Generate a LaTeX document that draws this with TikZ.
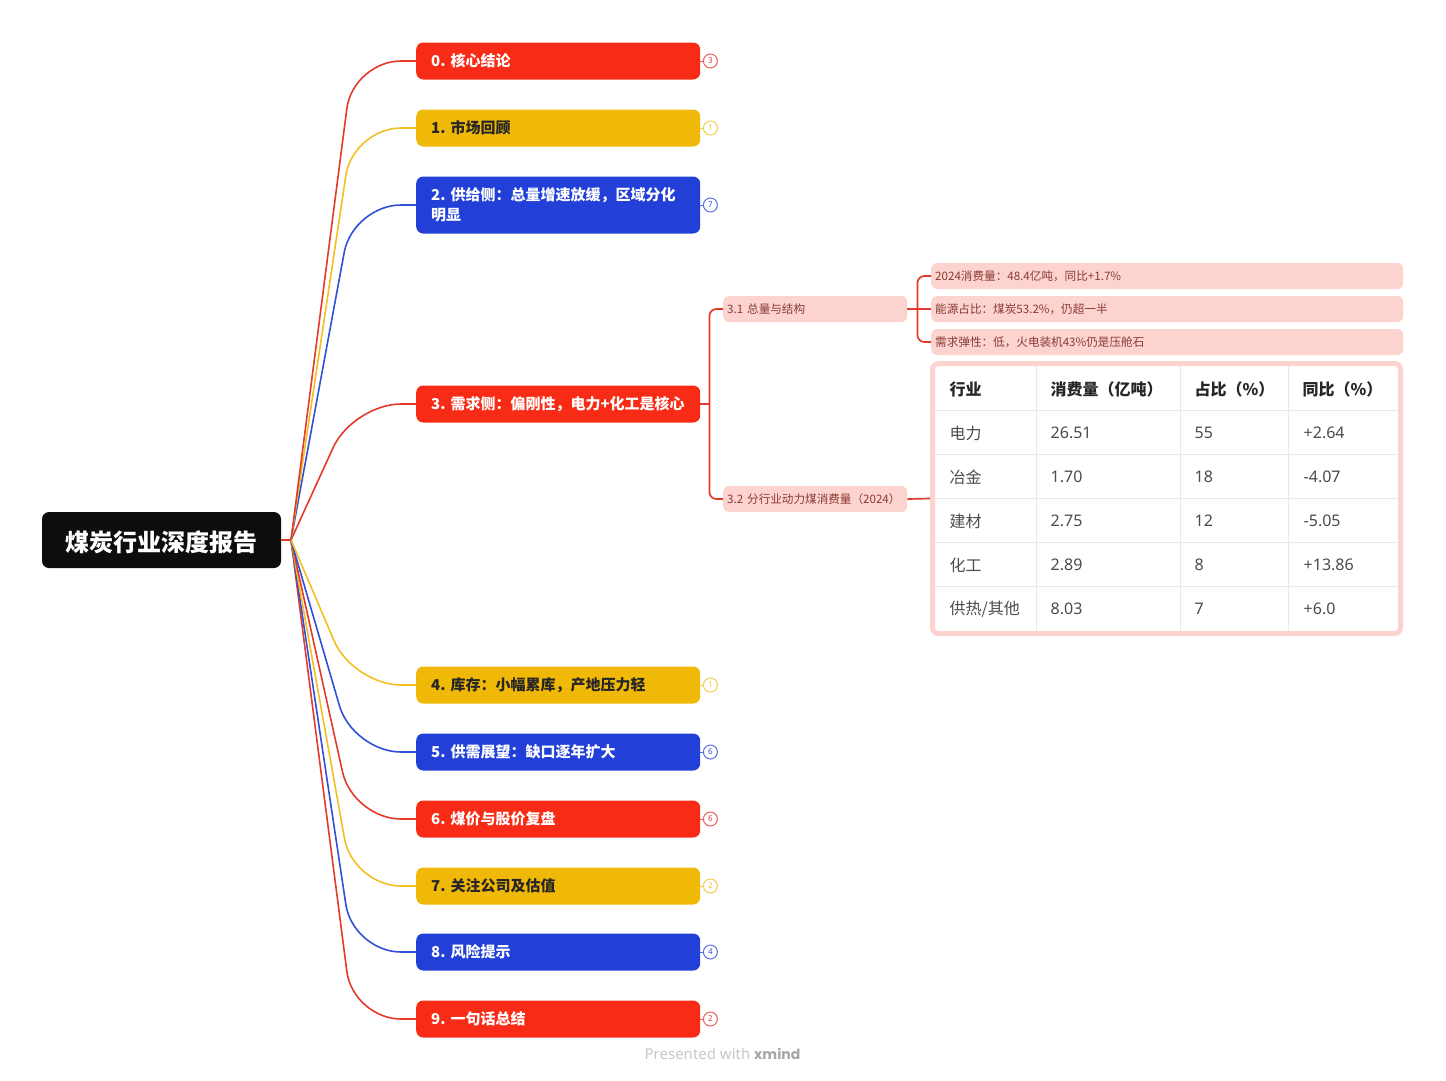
\documentclass[tikz,border=0pt]{standalone}
\usepackage{fontspec}
\setmainfont{Noto Sans CJK SC}
\newfontfamily\numfont{Noto Sans}
\newfontfamily\brandfont{Poppins}
\usetikzlibrary{positioning}
\frenchspacing
\definecolor{mapred}{HTML}{F82C16}
\definecolor{mapyellow}{HTML}{F0B807}
\definecolor{mapblue}{HTML}{2240D8}
\definecolor{linered}{HTML}{E33A2C}
\definecolor{lineyellow}{HTML}{F0C020}
\definecolor{lineblue}{HTML}{3050D8}
\definecolor{softpink}{HTML}{FCD3CF}
\definecolor{subtext}{HTML}{8A3B33}
\definecolor{gridgray}{HTML}{E9E9EC}
\tikzset{
    topic/.style={rectangle, rounded corners=7pt, anchor=west, minimum height=37pt,
        inner xsep=15pt, inner ysep=0pt, text width=254pt, align=left, font=\fontsize{15}{20}\selectfont\bfseries},
    topicred/.style={topic, fill=mapred, text=white},
    topicyellow/.style={topic, fill=mapyellow, text=black!85},
    topicblue/.style={topic, fill=mapblue, text=white},
    badge/.style={circle, draw, fill=white, line width=1pt, minimum size=14pt, inner sep=0pt,
        font=\numfont\fontsize{8}{8}\selectfont},
    branch/.style={line width=1.6pt, rounded corners=48pt},
    subline/.style={line width=1.7pt, draw=linered, rounded corners=7pt},
    subtopic/.style={rectangle, rounded corners=6pt, fill=softpink, text=subtext, anchor=west, minimum height=26pt,
        inner xsep=4pt, inner ysep=0pt, text width=176pt, font=\fontsize{11.6}{13}\selectfont},
    leaf/.style={subtopic, text width=464pt},
    headcell/.style={anchor=west, inner sep=0pt, text=black!85, font=\fontsize{16}{18}\selectfont\bfseries},
    bodycell/.style={anchor=west, inner sep=0pt, text=black!70, font=\fontsize{16}{18}\selectfont},
    numcell/.style={anchor=west, inner sep=0pt, text=black!70, font=\numfont\fontsize{16}{18}\selectfont},
}
\begin{document}
\begin{tikzpicture}[x=1pt, y=-1pt]
    \useasboundingbox (0,0) rectangle (1446,1080);

    \node[rectangle, rounded corners=7pt, fill=black!95, minimum width=239pt, minimum height=56pt, inner sep=0pt] (root) at (161.5,540) {};
    \node[text=white, inner sep=0pt, font=\fontsize{24}{28}\selectfont\bfseries] (rootlabel) at (161.5,542) {煤炭行业深度报告};
    \coordinate (hub) at (291,540);
    \coordinate (bend) at (353,540);

    % main topics
    \node[topicred] (t0) at (416,61) {0. 核心结论};
    \node[topicyellow] (t1) at (416,128) {1. 市场回顾};
    \node[topicblue, minimum height=57pt] (t2) at (416,205) {2. 供给侧：总量增速放缓，区域分化\\明显};
    \node[topicred] (t3) at (416,404) {3. 需求侧：偏刚性，电力+化工是核心};
    \node[topicyellow] (t4) at (416,685) {4. 库存：小幅累库，产地压力轻};
    \node[topicblue] (t5) at (416,752) {5. 供需展望：缺口逐年扩大};
    \node[topicred] (t6) at (416,819) {6. 煤价与股价复盘};
    \node[topicyellow] (t7) at (416,886) {7. 关注公司及估值};
    \node[topicblue] (t8) at (416,952) {8. 风险提示};
    \node[topicred] (t9) at (416,1019) {9. 一句话总结};

    % branches and counters
    \draw[line width=1.6pt, draw=linered] (root.east) -- (hub);
    \foreach \i/\col in {9/red, 8/blue, 7/yellow, 6/red, 5/blue, 4/yellow, 3/red, 2/blue, 1/yellow, 0/red} {
        \draw[branch, draw=line\col] (hub) -- (bend |- t\i.west) -- (t\i.west);
    }
    \foreach \i/\n/\col in {0/3/red, 1/1/yellow, 2/7/blue, 4/1/yellow, 5/6/blue, 6/6/red, 7/2/yellow, 8/4/blue, 9/2/red} {
        \node[badge, draw=line\col!80, text=line\col, right=2.5pt of t\i] (b\i) {\n};
        \draw[line width=1pt, draw=line\col!80] (t\i) -- (b\i);
    }

    % section 3
    \node[subtopic] (s1) at (723,309) {3.1 总量与结构};
    \node[subtopic] (s2) at (723,499) {3.2 分行业动力煤消费量（2024）};
    \node[leaf] (l1) at (931,276) {2024消费量：48.4亿吨，同比+1.7\%};
    \node[leaf] (l2) at (931,309) {能源占比：煤炭53.2\%，仍超一半};
    \node[leaf] (l3) at (931,342) {需求弹性：低，火电装机43\%仍是压舱石};
    \coordinate[right=9pt of t3.east] (j3);
    \coordinate[right=10pt of s1.east] (j1);
    \draw[subline] (t3.east) -- (j3);
    \draw[subline] (j3) |- (s1.west);
    \draw[subline] (j3) |- (s2.west);
    \draw[subline] (s1.east) -- (l2.west);
    \draw[subline] (j1) |- (l1.west);
    \draw[subline] (j1) |- (l3.west);

    % table
    \node[rectangle, draw=softpink, fill=white, line width=5pt, rounded corners=6pt, minimum width=468pt, minimum height=270pt,
        inner sep=0pt] (tbl) at (1166.5,498.5) {};
    \draw[subline] (s2.east) -- (tbl.west);
    \foreach \y in {410.5,454.5,498.5,542.5,586.5} {
        \draw[line width=0.8pt, draw=gridgray] (935,\y) -- (1397.5,\y);
    }
    \foreach \x in {1036.7,1180.7,1288.5} {
        \draw[line width=0.8pt, draw=gridgray] (\x,366) -- (\x,631);
    }
    \node[headcell] (h1) at (949.5,389.5) {行业};
    \node[headcell] (h2) at (1050.5,389.5) {消费量（亿吨）};
    \node[headcell] (h3) at (1194.5,389.5) {占比（\%）};
    \node[headcell] (h4) at (1302.5,389.5) {同比（\%）};
    \foreach \i/\y/\a/\b/\c/\d in {1/433/电力/26.51/55/+2.64, 2/477/冶金/1.70/18/-4.07, 3/521/建材/2.75/12/-5.05,
        4/565/化工/2.89/8/+13.86, 5/609/{供热{/}其他}/8.03/7/+6.0} {
        \node[bodycell] (r\i a) at (949.5,\y) {\a};
        \node[numcell] (r\i b) at (1050.5,\y) {\b};
        \node[numcell] (r\i c) at (1194.5,\y) {\c};
        \node[numcell] (r\i d) at (1303.5,\y) {\d};
    }

    \node[text=black!22, font=\numfont\fontsize{15}{16}\selectfont] (mark) at (722.5,1053.5) {Presented with {\brandfont\fontsize{14}{16}\selectfont\bfseries\color{black!35}xmind}};
\end{tikzpicture}
\end{document}
